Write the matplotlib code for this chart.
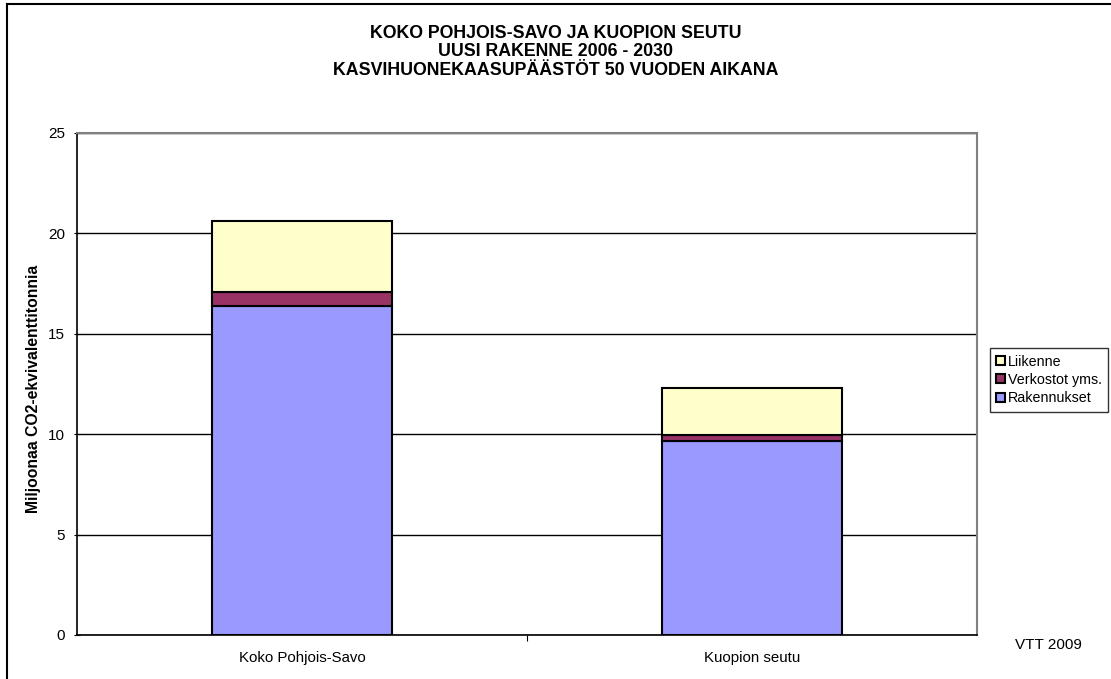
import matplotlib.pyplot as plt
from matplotlib.lines import Line2D
import numpy as np

plt.rcParams['font.family'] = ['Liberation Sans', 'DejaVu Sans']

# data
alueet = ['Koko Pohjois-Savo', 'Kuopion seutu']
rakennukset = np.array([16.38, 9.68])
verkostot = np.array([0.70, 0.28])
liikenne = np.array([3.55, 2.34])

fig = plt.figure(figsize=(11.11, 6.79), dpi=100)
ax = fig.add_axes([77/1111, 44/679, 900/1111, 502/679])

x = np.arange(len(alueet))
w = 0.4
ax.bar(x, rakennukset, w, color='#9999FF', edgecolor='black', linewidth=1.5, label='Rakennukset', zorder=3)
ax.bar(x, verkostot, w, bottom=rakennukset, color='#993366', edgecolor='black', linewidth=1.5,
       label='Verkostot yms.', zorder=3)
ax.bar(x, liikenne, w, bottom=rakennukset + verkostot, color='#FFFFCC', edgecolor='black', linewidth=1.5,
       label='Liikenne', zorder=3)

ax.set_xlim(-0.5, 1.5)
ax.set_ylim(0, 25)
ax.set_yticks(np.arange(0, 26, 5))
ax.yaxis.grid(True, color='black', linewidth=1, zorder=0)
ax.set_xticks([0.5])
ax.set_xticklabels([])
ax.tick_params(axis='x', length=4, color='black', direction='out')
ax.tick_params(axis='y', length=5, labelsize=11, direction='inout', pad=6)
for xi, name in zip(x, alueet):
    ax.text(xi, -1.15, name, ha='center', va='center', fontsize=10.8)

ax.spines['top'].set_color('#808080')
ax.spines['right'].set_color('#808080')
ax.spines['top'].set_linewidth(1.5)
ax.spines['right'].set_linewidth(1.5)
ax.spines['left'].set_linewidth(1.2)
ax.spines['bottom'].set_linewidth(1.2)

ax.set_ylabel('Miljoonaa CO2-ekvivalenttitonnia', fontsize=11.3, fontweight='bold')
ax.yaxis.set_label_coords(-0.04, 0.49)

fig.text(0.5, 1 - 52/679, 'KOKO POHJOIS-SAVO JA KUOPION SEUTU\nUUSI RAKENNE 2006 - 2030\n'
         'KASVIHUONEKAASUPÄÄSTÖT 50 VUODEN AIKANA',
         ha='center', va='center', fontsize=12.8, fontweight='bold', linespacing=1.12)

handles, labels = ax.get_legend_handles_labels()
leg = fig.legend(handles[::-1], labels[::-1], loc='center left', bbox_to_anchor=(990/1111, 1 - 380/679),
                 fontsize=10.3, frameon=True, fancybox=False, edgecolor='black', handlelength=0.6,
                 handleheight=0.6, handletextpad=0.2, borderpad=0.45, labelspacing=0.3, borderaxespad=0)
leg.get_frame().set_linewidth(1)

fig.text(1048/1111, 1 - 645/679, 'VTT 2009', ha='center', va='center', fontsize=11)

# outer frame (top and left visible)
fig.add_artist(Line2D([7/1111, 1], [1 - 4/679, 1 - 4/679], color='black', linewidth=1.5))
fig.add_artist(Line2D([7/1111, 7/1111], [0, 1 - 4/679], color='black', linewidth=1.5))

fig.savefig('out.png', dpi=100)
